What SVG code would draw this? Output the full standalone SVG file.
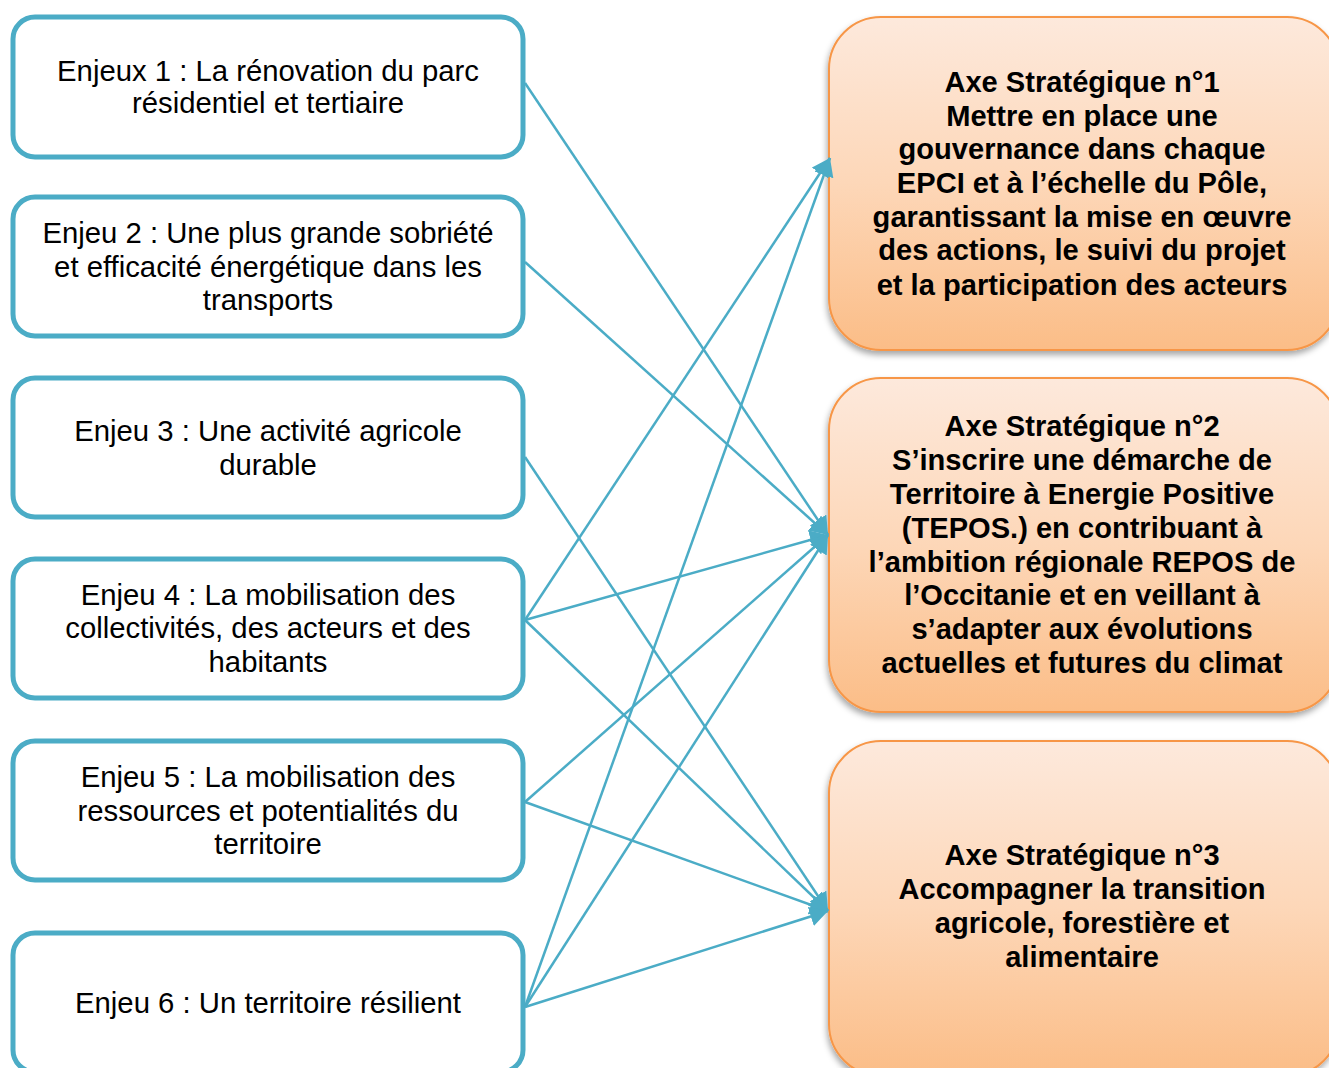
<svg xmlns="http://www.w3.org/2000/svg" width="1329" height="1068" viewBox="0 0 1329 1068">
<defs>
<linearGradient id="og" x1="0" y1="0" x2="0" y2="1">
<stop offset="0" stop-color="#fde9dc"/>
<stop offset="0.5" stop-color="#fdd7b8"/>
<stop offset="1" stop-color="#fbbd87"/>
</linearGradient>
<filter id="sh" x="-10%" y="-10%" width="130%" height="130%">
<feDropShadow dx="-1" dy="4" stdDeviation="3" flood-color="#000" flood-opacity="0.35"/>
</filter>
<marker id="ah" markerUnits="userSpaceOnUse" markerWidth="20" markerHeight="20" refX="18" refY="10" orient="auto">
<path d="M0,0 L18,10 L0,20 Z" fill="#4bacc6"/>
</marker>
<style>
.lb{fill:#fff;stroke:#4bacc6;stroke-width:5}
.rb{fill:url(#og);stroke:#f79646;stroke-width:2;filter:url(#sh)}
.lt{font-family:"Liberation Sans",Arial,sans-serif;font-size:29.3px;fill:#000;text-anchor:middle}
.rt{font-family:"Liberation Sans",Arial,sans-serif;font-size:29.1px;font-weight:bold;fill:#000;text-anchor:middle}
.cn{stroke:#4bacc6;stroke-width:2.5;fill:none;marker-end:url(#ah)}
</style>
</defs>
<rect width="1329" height="1068" fill="#fff"/>

<g id="axe1">
<rect class="rb" x="829" y="17" width="510" height="333" rx="52"/>
<text class="rt"><tspan x="1082" y="92">Axe Stratégique n°1</tspan><tspan x="1082" y="126">Mettre en place une</tspan><tspan x="1082" y="159">gouvernance dans chaque</tspan><tspan x="1082" y="193">EPCI et à l’échelle du Pôle,</tspan><tspan x="1082" y="227">garantissant la mise en œuvre</tspan><tspan x="1082" y="260">des actions, le suivi du projet</tspan><tspan x="1082" y="295">et la participation des acteurs</tspan></text>
</g>
<g id="axe2">
<rect class="rb" x="829" y="378" width="510" height="334" rx="52"/>
<text class="rt"><tspan x="1082" y="436">Axe Stratégique n°2</tspan><tspan x="1082" y="470">S’inscrire une démarche de</tspan><tspan x="1082" y="504">Territoire à Energie Positive</tspan><tspan x="1082" y="538">(TEPOS.) en contribuant à</tspan><tspan x="1082" y="572">l’ambition régionale REPOS de</tspan><tspan x="1082" y="605">l’Occitanie et en veillant à</tspan><tspan x="1082" y="639">s’adapter aux évolutions</tspan><tspan x="1082" y="673">actuelles et futures du climat</tspan></text>
</g>
<g id="axe3">
<rect class="rb" x="829" y="741" width="510" height="335" rx="52"/>
<text class="rt"><tspan x="1082" y="865">Axe Stratégique n°3</tspan><tspan x="1082" y="899">Accompagner la transition</tspan><tspan x="1082" y="933">agricole, forestière et</tspan><tspan x="1082" y="967">alimentaire</tspan></text>
</g>

<g id="enjeu1">
<rect class="lb" x="13" y="17" width="510" height="140" rx="22"/>
<text class="lt"><tspan x="268" y="81">Enjeux 1 : La rénovation du parc</tspan><tspan x="268" y="113">résidentiel et tertiaire</tspan></text>
</g>
<g id="enjeu2">
<rect class="lb" x="13" y="197" width="510" height="139" rx="22"/>
<text class="lt"><tspan x="268" y="243">Enjeu 2 : Une plus grande sobriété</tspan><tspan x="268" y="277">et efficacité énergétique dans les</tspan><tspan x="268" y="310">transports</tspan></text>
</g>
<g id="enjeu3">
<rect class="lb" x="13" y="378" width="510" height="139" rx="22"/>
<text class="lt"><tspan x="268" y="441">Enjeu 3 : Une activité agricole</tspan><tspan x="268" y="475">durable</tspan></text>
</g>
<g id="enjeu4">
<rect class="lb" x="13" y="559" width="510" height="139" rx="22"/>
<text class="lt"><tspan x="268" y="605">Enjeu 4 : La mobilisation des</tspan><tspan x="268" y="638">collectivités, des acteurs et des</tspan><tspan x="268" y="672">habitants</tspan></text>
</g>
<g id="enjeu5">
<rect class="lb" x="13" y="741" width="510" height="139" rx="22"/>
<text class="lt"><tspan x="268" y="787">Enjeu 5 : La mobilisation des</tspan><tspan x="268" y="821">ressources et potentialités du</tspan><tspan x="268" y="854">territoire</tspan></text>
</g>
<g id="enjeu6">
<rect class="lb" x="13" y="933" width="510" height="139" rx="22"/>
<text class="lt"><tspan x="268" y="1013">Enjeu 6 : Un territoire résilient</tspan></text>
</g>

<g id="connectors">
<line class="cn" x1="525" y1="83" x2="828" y2="535"/>
<line class="cn" x1="525" y1="262" x2="828" y2="535"/>
<line class="cn" x1="525" y1="457" x2="828" y2="911"/>
<line class="cn" x1="525" y1="620" x2="830" y2="158"/>
<line class="cn" x1="525" y1="620" x2="828" y2="535"/>
<line class="cn" x1="525" y1="620" x2="828" y2="911"/>
<line class="cn" x1="525" y1="802" x2="828" y2="535"/>
<line class="cn" x1="525" y1="802" x2="828" y2="911"/>
<line class="cn" x1="525" y1="1007" x2="830" y2="158"/>
<line class="cn" x1="525" y1="1007" x2="828" y2="535"/>
<line class="cn" x1="525" y1="1007" x2="828" y2="911"/>
</g>
</svg>
